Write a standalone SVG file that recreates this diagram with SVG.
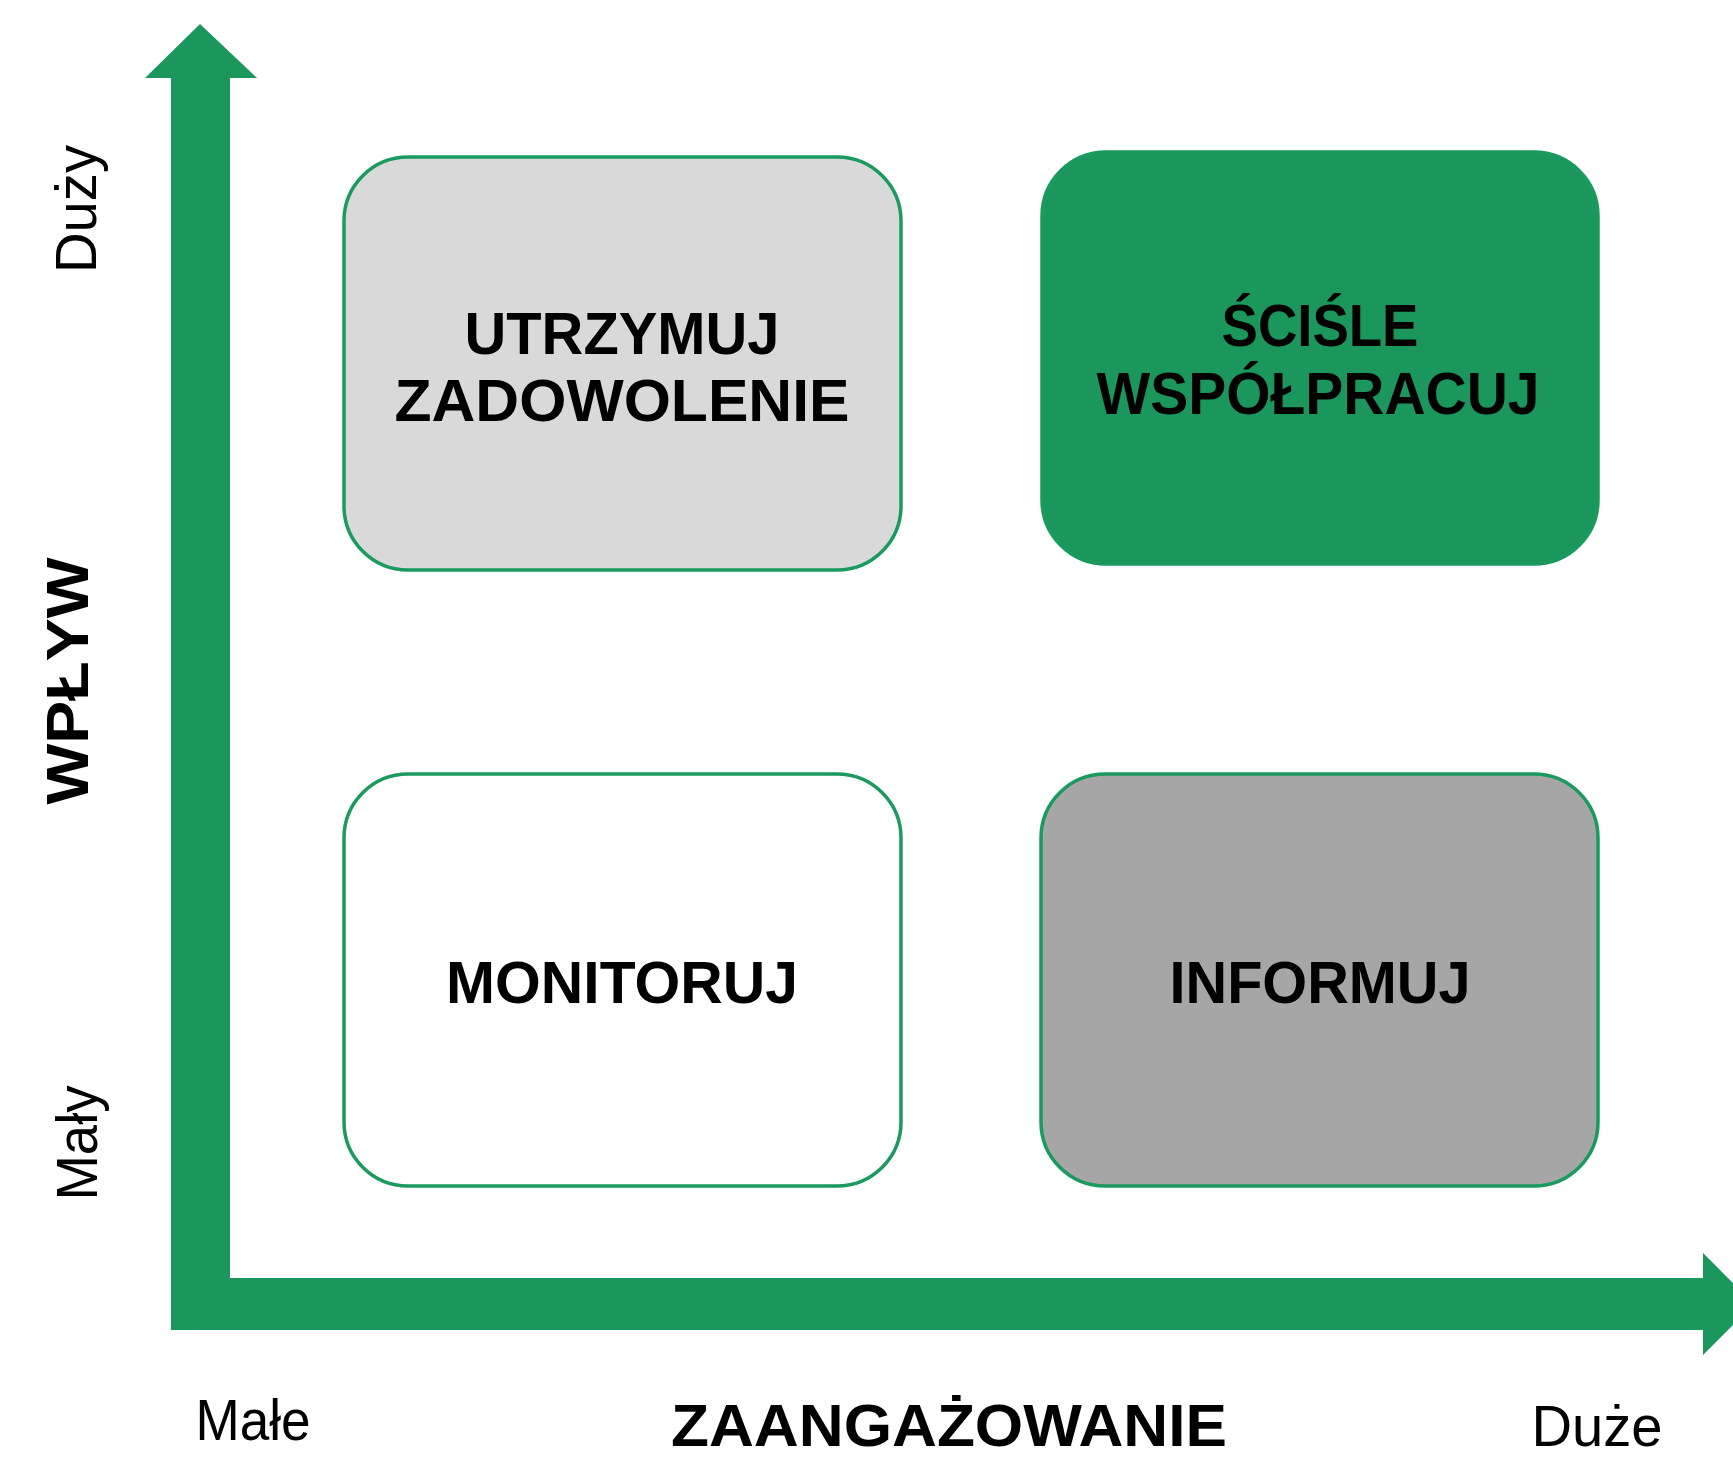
<svg xmlns="http://www.w3.org/2000/svg" width="1733" height="1458" viewBox="0 0 1733 1458">
<style>
.box{stroke:#1b9a5f;stroke-width:3.5}
.t{font-family:"Liberation Sans",Arial,sans-serif;font-weight:bold;font-size:60px;fill:#000;text-anchor:middle}
.l{font-family:"Liberation Sans",Arial,sans-serif;font-size:58px;fill:#000;text-anchor:middle}
.lb{font-family:"Liberation Sans",Arial,sans-serif;font-weight:bold;font-size:60px;fill:#000;text-anchor:middle}
</style>
<rect width="1733" height="1458" fill="#fff"/>
<g id="connectors">
<path id="axes" d="M171,1330 L171,78 L145,78 L200,24 L257,78 L230,78 L230,1278 L1703,1278 L1703,1253 L1754,1304 L1703,1355 L1703,1330 Z" fill="#1b975e"/>
</g>
<g id="node-utrzymuj">
<rect class="box" x="344" y="157" width="557" height="413" rx="64" fill="#d9d9d9"/>
<text class="t" x="622" y="354" textLength="315" lengthAdjust="spacingAndGlyphs">UTRZYMUJ</text>
<text class="t" x="622" y="421" textLength="455" lengthAdjust="spacingAndGlyphs">ZADOWOLENIE</text>
</g>
<g id="node-scisle">
<rect class="box" x="1042" y="152" width="556" height="412" rx="64" fill="#1b975e" stroke="#1a8f58"/>
<text class="t" x="1320" y="346" textLength="197" lengthAdjust="spacingAndGlyphs">ŚCIŚLE</text>
<text class="t" x="1318" y="414" textLength="443" lengthAdjust="spacingAndGlyphs">WSPÓŁPRACUJ</text>
</g>
<g id="node-monitoruj">
<rect class="box" x="344" y="774" width="557" height="412" rx="64" fill="#fff"/>
<text class="t" x="622" y="1003" textLength="352" lengthAdjust="spacingAndGlyphs">MONITORUJ</text>
</g>
<g id="node-informuj">
<rect class="box" x="1041" y="774" width="557" height="412" rx="64" fill="#a6a6a6"/>
<text class="t" x="1320" y="1003" textLength="301" lengthAdjust="spacingAndGlyphs">INFORMUJ</text>
</g>
<g id="labels">
<text class="l" transform="translate(96,209) rotate(-90)" textLength="128" lengthAdjust="spacingAndGlyphs">Duży</text>
<text class="l" transform="translate(97,1143) rotate(-90)" textLength="115" lengthAdjust="spacingAndGlyphs">Mały</text>
<text class="lb" transform="translate(88,681) rotate(-90)" textLength="247" lengthAdjust="spacingAndGlyphs">WPŁYW</text>
<text class="l" x="253" y="1440" textLength="115" lengthAdjust="spacingAndGlyphs">Małe</text>
<text class="l" x="1597" y="1446" textLength="131" lengthAdjust="spacingAndGlyphs">Duże</text>
<text class="lb" x="949" y="1446" textLength="556" lengthAdjust="spacingAndGlyphs">ZAANGAŻOWANIE</text>
</g>
</svg>
